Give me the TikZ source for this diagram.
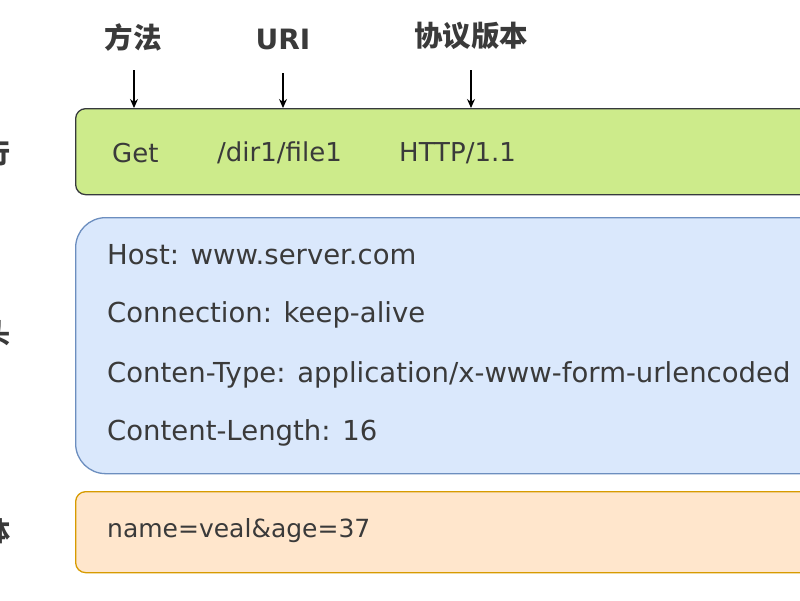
\documentclass[tikz,border=0pt]{standalone}
\usepackage{fontspec}
\setmainfont{DejaVu Sans}
\newfontfamily\cjk{Noto Sans CJK SC}
\usetikzlibrary{arrows.meta}
\definecolor{txt}{HTML}{3A3A3A}
\definecolor{gfill}{HTML}{CDEB8B}
\definecolor{gline}{HTML}{36393D}
\definecolor{bfill}{HTML}{DAE8FC}
\definecolor{bline}{HTML}{6C8EBF}
\definecolor{ofill}{HTML}{FFE6CC}
\definecolor{oline}{HTML}{D79B00}
\begin{document}
\begin{tikzpicture}[x=1pt,y=-1pt,
  cjklbl/.style={font=\cjk\bfseries\fontsize{27}{31}\selectfont, text=txt, inner sep=0pt},
  toplbl/.style={font=\cjk\bfseries\fontsize{28.5}{32}\selectfont, text=txt, inner sep=0pt, anchor=center},
  uril/.style={font=\bfseries\fontsize{28}{32}\selectfont, text=txt, inner sep=0pt},
  rowtxt/.style={font=\fontsize{26}{30}\selectfont, text=txt, inner sep=0pt, anchor=west},
  hdrtxt/.style={font=\fontsize{27.5}{32}\selectfont, text=txt, inner sep=0pt, anchor=west},
  bodytxt/.style={font=\fontsize{25}{30}\selectfont, text=txt, inner sep=0pt, anchor=west},
  arr/.style={-{Stealth[length=9pt,width=8pt]}, line width=1.2pt, black},
  boxg/.style={draw=gline, fill=gfill, line width=1.3pt, rounded corners=10pt},
  boxb/.style={draw=bline, fill=bfill, line width=1.3pt, rounded corners=30pt},
  boxo/.style={draw=oline, fill=ofill, line width=1.3pt, rounded corners=10pt}]
\clip (0,0) rectangle (800,600);
\fill[white] (0,0) rectangle (800,600);
% boxes
\node[boxg, minimum width=780pt, minimum height=86pt, anchor=north west] (green) at (75,108) {};
\node[boxb, minimum width=780pt, minimum height=256pt, anchor=north west] (blue) at (75,217) {};
\node[boxo, minimum width=780pt, minimum height=81pt, anchor=north west] (orange) at (75,491) {};
% left labels
\node[cjklbl, anchor=east] (l1) at (11,153) {请求行};
\node[cjklbl, anchor=east] (l2) at (11,333) {请求头};
\node[cjklbl, anchor=east] (l3) at (11,531) {请求体};
% top labels
\node[toplbl] (m) at (133,37) {方法};
\node[uril] (u) at (283,39) {URI};
\node[toplbl] (p) at (471,36) {协议版本};
% arrows
\coordinate (mtop) at (134,70);
\coordinate (utop) at (283,73);
\coordinate (ptop) at (471,70);
\draw[arr] (mtop) -- (mtop |- green.north);
\draw[arr] (utop) -- (utop |- green.north);
\draw[arr] (ptop) -- (ptop |- green.north);
% green row text
\node[rowtxt] (t1) at (112,153) {Get};
\node[rowtxt] (t2) at (217,153) {/dir1/file1};
\node[rowtxt] (t3) at (399,153) {HTTP/1.1};
% header lines
\node[hdrtxt] (h1) at (107,255) {Host: www.server.com};
\node[hdrtxt] (h2) at (107,315) {Connection: keep-alive};
\node[hdrtxt] (h3) at (107,375) {Conten-Type: application/x-www-form-urlencoded};
\node[hdrtxt] (h4) at (107,433) {Content-Length: 16};
% body
\node[bodytxt] (b1) at (107,531) {name=veal\&age=37};
\end{tikzpicture}
\end{document}
